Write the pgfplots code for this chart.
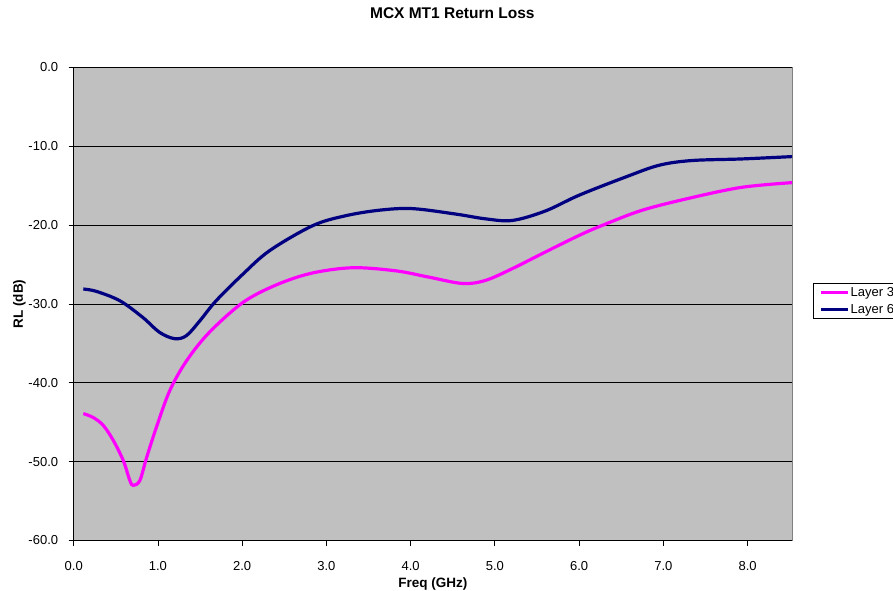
\documentclass[border=0pt]{standalone}
\usepackage{pgfplots}
\pgfplotsset{compat=1.18}
\usepackage{fontspec}
\setmainfont{Liberation Sans}

\definecolor{plotgray}{RGB}{192,192,192}
\definecolor{rlmagenta}{RGB}{255,0,255}
\definecolor{rlnavy}{RGB}{0,0,128}

\newcommand{\fsz}[1]{\fontsize{#1}{#1}\selectfont}

\begin{document}
\begin{tikzpicture}
	\begin{axis}[
	scale only axis,
	width=718.5bp, height=473bp,
	xmin=0, xmax=8.53,
	ymin=-60, ymax=0,
	xtick={0,1,2,3,4,5,6,7,8},
	xticklabels={0.0,1.0,2.0,3.0,4.0,5.0,6.0,7.0,8.0},
	ytick={-60,-50,-40,-30,-20,-10,0},
	yticklabels={-60.0,-50.0,-40.0,-30.0,-20.0,-10.0,0.0},
	ticklabel style={font=\fsz{13bp}},
	yticklabel style={inner sep=0pt, anchor=east, xshift=-10.4bp},
	xticklabel style={inner sep=0pt, anchor=base, yshift=-25.2bp},
	tick align=outside,
	major tick length=5bp,
	tick style={black, line width=0.8bp},
	xtick pos=bottom, ytick pos=left,
	ymajorgrids=true,
	grid style={black, line width=0.8bp},
	axis background/.style={fill=plotgray, draw=gray, line width=1bp},
	axis x line*=bottom, axis y line*=left,
	axis line style={black, line width=1bp, -},
	title={\bfseries MCX MT1 Return Loss},
	title style={font=\fsz{15.5bp}, at={([yshift=43.5bp]rel axis cs:0.527,1)}, anchor=base, inner sep=0pt},
	xlabel={\bfseries Freq (GHz)},
	xlabel style={font=\fsz{13.5bp}, at={([yshift=-47bp]rel axis cs:0.5,0)}, anchor=base, inner sep=0pt},
	ylabel={\bfseries RL (dB)},
	ylabel style={font=\fsz{13.5bp}, at={([xshift=-50.7bp]rel axis cs:0,0.5)}, anchor=base, rotate=0, inner sep=0pt},
	legend style={at={(1.029,0.544)}, anchor=north west, draw=black, line width=0.8bp,
		fill=white, font=\fsz{13bp}, inner xsep=6bp, inner ysep=2.5bp, row sep=4bp,
		nodes={inner sep=1bp, text height=9bp, text depth=2bp}},
	legend cell align=left,
	legend image code/.code={\draw[#1] (0bp,0bp) -- (27bp,0bp);},
	every axis plot/.append style={line width=3.2bp, smooth, tension=0.55},
	]

	% Layer 3
	\addplot[color=rlmagenta] coordinates {
		(0.114,-43.9) (0.232,-44.4) (0.351,-45.4) (0.47,-47.3) (0.59,-49.9)
		(0.667,-52.4) (0.706,-53.0) (0.785,-52.4) (0.865,-49.5) (0.983,-45.6)
		(1.14,-41.0) (1.34,-37.2) (1.61,-33.6) (2.01,-29.8) (2.40,-27.6)
		(2.82,-26.1) (3.31,-25.4) (3.83,-25.8) (4.22,-26.6) (4.62,-27.4)
		(4.89,-27.0) (5.21,-25.5) (5.60,-23.4) (6.00,-21.3) (6.27,-20.05)
		(6.75,-18.1) (7.34,-16.5) (7.93,-15.2) (8.53,-14.6)
	};

	% Layer 6
	\addplot[color=rlnavy] coordinates {
		(0.114,-28.1) (0.27,-28.4) (0.55,-29.6) (0.82,-31.7) (1.02,-33.6)
		(1.20,-34.4) (1.34,-34.0) (1.50,-32.1) (1.69,-29.6) (2.01,-26.2)
		(2.33,-23.2) (2.84,-20.05) (3.23,-18.8) (3.63,-18.1) (4.02,-17.9)
		(4.54,-18.6) (4.89,-19.2) (5.21,-19.4) (5.60,-18.2) (6.00,-16.2)
		(6.55,-13.9) (6.95,-12.4) (7.34,-11.8) (7.93,-11.6) (8.53,-11.3)
	};

	\legend{Layer 3, Layer 6}
	\end{axis}
	\pgfresetboundingbox
	\path[use as bounding box] (-73.7bp,-50.5bp) rectangle (819.3bp,540.5bp);
\end{tikzpicture}
\end{document}
